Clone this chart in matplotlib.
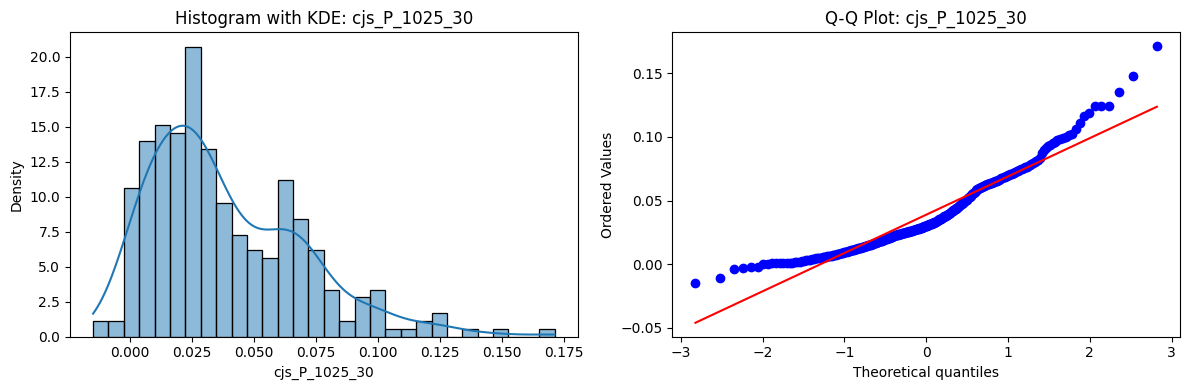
import statistics

import numpy as np
import matplotlib
matplotlib.use("Agg")
import matplotlib.pyplot as plt
import seaborn as sns

# Name of the variable shown in both panels
column_name = "cjs_P_1025_30"

values_low = [-0.0147, -0.0107, -0.0037, -0.0029,
              -0.0021, -0.0020, 0.0002, 0.0004, 0.0005, 0.0006, 0.0007, 0.0008, 0.0009, 0.0010,
              0.0012, 0.0014, 0.0016, 0.0019, 0.0022, 0.0026, 0.0029, 0.0033, 0.0036]
values_bin3 = [0.0041, 0.0043, 0.0045, 0.0047, 0.0049, 0.0051, 0.0054, 0.0056, 0.0058, 0.0060,
               0.0063, 0.0065, 0.0067, 0.0070, 0.0072, 0.0075, 0.0077, 0.0080, 0.0082, 0.0085,
               0.0088, 0.0091, 0.0093, 0.0096, 0.0099]
values_bin4 = [0.0102, 0.0104, 0.0106, 0.0108, 0.0110, 0.0112, 0.0114, 0.0117, 0.0119, 0.0121,
               0.0123, 0.0126, 0.0128, 0.0130, 0.0133, 0.0135, 0.0137, 0.0140, 0.0142, 0.0144,
               0.0147, 0.0149, 0.0151, 0.0154, 0.0156, 0.0158, 0.0161]
values_bin5 = [0.0165, 0.0167, 0.0169, 0.0171, 0.0174, 0.0176, 0.0178, 0.0181, 0.0183, 0.0185,
               0.0188, 0.0190, 0.0193, 0.0195, 0.0197, 0.0200, 0.0202, 0.0204, 0.0207, 0.0209,
               0.0211, 0.0214, 0.0216, 0.0218, 0.0220, 0.0223]
values_bin6 = [0.0226, 0.0228, 0.0229, 0.0231, 0.0233, 0.0234, 0.0236, 0.0238, 0.0239, 0.0241,
               0.0243, 0.0244, 0.0246, 0.0248, 0.0249, 0.0251, 0.0253, 0.0254, 0.0256, 0.0258,
               0.0259, 0.0261, 0.0263, 0.0264, 0.0266, 0.0268, 0.0269, 0.0271, 0.0273, 0.0274,
               0.0276, 0.0278, 0.0279, 0.0281, 0.0282, 0.0284, 0.0286]
values_bin7 = [0.0289, 0.0291, 0.0293, 0.0296, 0.0298, 0.0300, 0.0303, 0.0305, 0.0307, 0.0310,
               0.0312, 0.0314, 0.0317, 0.0319, 0.0322, 0.0324, 0.0327, 0.0329, 0.0332, 0.0334,
               0.0337, 0.0340, 0.0343, 0.0346]
values_mid = [0.0351, 0.0355, 0.0358, 0.0361, 0.0365, 0.0368, 0.0372, 0.0375, 0.0379, 0.0382,
              0.0386, 0.0389, 0.0393, 0.0397, 0.0401, 0.0404, 0.0408,
              0.0414, 0.0418, 0.0423, 0.0427, 0.0431, 0.0436, 0.0440, 0.0445, 0.0449, 0.0454,
              0.0459, 0.0464, 0.0469,
              0.0476, 0.0481, 0.0486, 0.0491, 0.0496, 0.0501, 0.0507, 0.0512, 0.0518, 0.0524,
              0.0530,
              0.0538, 0.0544, 0.0550, 0.0556, 0.0562, 0.0568, 0.0575, 0.0581, 0.0587, 0.0593]
values_upper = [0.0599, 0.0602, 0.0605, 0.0608, 0.0611, 0.0614, 0.0617, 0.0620, 0.0623, 0.0626,
                0.0629, 0.0632, 0.0635, 0.0638, 0.0641, 0.0644, 0.0647, 0.0650, 0.0653, 0.0656,
                0.0661, 0.0665, 0.0669, 0.0673, 0.0677, 0.0681, 0.0685, 0.0689, 0.0693, 0.0697,
                0.0701, 0.0705, 0.0709, 0.0713, 0.0717,
                0.0723, 0.0728, 0.0733, 0.0739, 0.0744, 0.0750, 0.0755, 0.0761, 0.0766, 0.0772,
                0.0778]
values_tail = [0.0786, 0.0792, 0.0800, 0.0810, 0.0822, 0.0835,
               0.0874, 0.0895,
               0.0912, 0.0925, 0.0938, 0.0950, 0.0962,
               0.0975, 0.0985, 0.0993, 0.1002, 0.1012, 0.1022,
               0.1060, 0.1112, 0.1167, 0.1190, 0.1240, 0.1243, 0.1246,
               0.1353, 0.1479, 0.1713]


class DistributionFigure:
    def __init__(self):
        self.name = column_name
        self.data = np.sort(np.array(values_low + values_bin3 + values_bin4 + values_bin5
                                     + values_bin6 + values_bin7 + values_mid
                                     + values_upper + values_tail))

    def theoretical_quantiles(self):
        # Filliben order statistic medians, mapped through the normal ppf
        n = len(self.data)
        m = (np.arange(1, n + 1) - 0.3175) / (n + 0.365)
        m[-1] = 0.5 ** (1.0 / n)
        m[0] = 1 - m[-1]
        dist = statistics.NormalDist()
        return np.array([dist.inv_cdf(p) for p in m])

    def histogram(self, ax):
        # Histogram with KDE overlay
        sns.histplot(self.data, bins=30, kde=True, stat="density", ax=ax)
        ax.set_title(f"Histogram with KDE: {self.name}")
        ax.set_xlabel(self.name)

    def qq_plot(self, ax):
        # Ordered values against normal quantiles plus least squares line
        osm = self.theoretical_quantiles()
        slope, intercept = np.polyfit(osm, self.data, 1)
        ax.plot(osm, self.data, "bo")
        ax.plot(osm, slope * osm + intercept, "r-")
        ax.set_title(f"Q-Q Plot: {self.name}")
        ax.set_xlabel("Theoretical quantiles")
        ax.set_ylabel("Ordered Values")

    def run(self):
        fig, axes = plt.subplots(1, 2, figsize=(12, 4), dpi=100)
        self.histogram(axes[0])
        self.qq_plot(axes[1])
        fig.tight_layout()
        fig.savefig("out.png", dpi=100, bbox_inches="tight")


if __name__ == '__main__':
    DistributionFigure().run()
